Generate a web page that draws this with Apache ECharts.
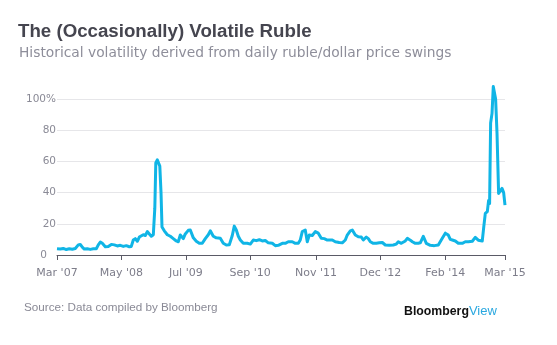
<!DOCTYPE html>
<html><head><meta charset="utf-8">
<script src="https://cdn.jsdelivr.net/npm/echarts@6/dist/echarts.min.js"></script>
<style>html,body{margin:0;padding:0;background:#fff}#c{width:557px;height:345px}</style>
</head><body><div id="c"></div>
<script>
// months since Mar 2007
var months = [0,0.71,1.35,1.99,2.64,3.28,3.92,4.56,4.99,5.42,5.85,6.49,7.14,7.78,8.42,8.85,9.28,9.71,10.35,10.99,11.64,12.28,12.92,13.56,14.21,14.85,15.49,15.92,16.35,16.78,17.21,17.64,18.06,18.49,18.92,19.35,19.78,20.21,20.64,20.96,21.17,21.49,21.77,22.03,22.29,22.5,22.99,23.64,24.28,24.92,25.56,25.99,26.42,27.06,27.49,28.13,28.56,29.21,29.85,30.49,31.13,31.78,32.42,32.85,33.49,34.13,34.99,35.63,36.28,36.92,37.56,37.99,38.42,38.85,39.28,39.92,40.78,41.42,42.06,42.71,43.35,43.99,44.63,45.28,46.13,46.78,47.42,48.28,48.92,49.56,50.42,51.06,51.71,52.13,52.56,53.2,53.63,54.06,54.7,55.35,55.99,56.63,57.27,57.92,58.99,59.63,60.49,61.13,61.78,62.2,62.85,63.28,63.92,64.56,65.21,65.64,66.28,66.71,67.14,67.78,68.42,69.06,69.71,70.35,71.21,72.06,72.71,73.14,73.78,73.99,74.64,75.07,75.71,76.14,76.78,77.42,77.85,78.49,79.14,79.99,80.85,81.71,82.13,82.56,83.21,83.85,84.28,84.71,85.35,85.99,86.85,87.49,88.13,88.99,89.63,90.27,91.13,91.45,91.78,92.21,92.49,92.7,92.92,93.22,93.49,93.77,93.99,94.29,94.63,94.99,95.36,95.71,96];
// historical volatility, %
var volatility = [4,3.8,4.2,3.5,4,3.7,4.2,6.5,6.8,5,3.8,4,3.6,4,4,6.5,8.3,7.5,5.3,5.5,6.8,6.5,5.8,6.2,5.5,6,5.3,5.5,9.6,10.5,8.8,11.5,11,13,12.5,15,13.5,12,13,30,59,61,62,57,40,18,15.5,13,12,10.5,9,8.5,12.8,10.5,13.5,15.8,16,11,8.8,7.5,7.5,10.5,13,15.5,12,11,10.8,7.5,6.4,6.5,12.5,18.5,16,12,9.6,7.5,7.5,7,9.6,9.2,9.8,9,9.3,7.8,7.5,6,6.2,7.5,7.5,8.5,8.5,7.5,7.5,9.6,15,16,8.5,12.8,12.5,15,14,10.7,10.5,9.6,9.6,8.5,8,7.8,9.6,12.8,15.5,16,12.8,11.7,11.5,9.6,11.5,10.5,8.5,7.5,7.5,7.8,8,6.4,6.2,6.4,7,8.5,7.5,6.4,9,10.7,9.5,8.5,7.5,7.5,7.8,12,7.5,6.2,6,6.4,6.5,10.7,14,12.8,10,9.6,9,7.5,7.5,8.5,8.5,8.8,11.3,9.5,9,18,26.7,27.8,35,33,84.6,90.8,108,108,100,78,39.5,40,42.7,40,32];
var tickMonths = [0,13.8,27.6,41.4,55.5,69.3,83.2,96];
var tickLabels = ["Mar '07","May '08","Jul '09","Sep '10","Nov '11","Dec '12","Feb '14","Mar '15"];

var pts = months.map(function(m,i){return [m, volatility[i]];});
var chart = echarts.init(document.getElementById('c'), null, {renderer:'canvas'});
chart.setOption({
  backgroundColor:'#fff',
  animation:false,
  title:[
    {text:'The (Occasionally) Volatile Ruble', left:18, top:22, padding:0,
     textStyle:{fontFamily:'Liberation Sans', fontWeight:'bold', fontSize:18.7, color:'#45454f'}},
    {text:'Historical volatility derived from daily ruble/dollar price swings', left:19, top:46, padding:0,
     textStyle:{fontFamily:'DejaVu Sans', fontWeight:'normal', fontSize:13.8, color:'#8e8e9a'}}
  ],
  grid:{left:57, right:52, top:99, bottom:90, containLabel:false},
  xAxis:{type:'value', min:0, max:96,
    splitLine:{show:false},
    axisLine:{show:true, lineStyle:{color:'#5a5a66', width:1}},
    axisTick:{show:true, customValues:tickMonths, length:5, lineStyle:{color:'#5a5a66'}},
    axisLabel:{customValues:tickMonths, margin:13, fontFamily:'DejaVu Sans', fontSize:11, color:'#7d7d8a',
      formatter:function(v){var i=tickMonths.indexOf(v);return i>=0?tickLabels[i]:'';}}
  },
  yAxis:{type:'value', min:0, max:100, interval:20,
    axisLine:{show:false}, axisTick:{show:false},
    splitLine:{show:true, lineStyle:{color:'#e6e6e9', width:1}},
    axisLabel:{margin:1, fontFamily:'DejaVu Sans', fontSize:10.5, color:'#8a8a96',
      formatter:function(v){return v===100?'100%':(v===0?'{z|0}':String(v));},
      rich:{z:{fontFamily:'DejaVu Sans', fontSize:10.5, color:'#8a8a96', padding:[0,9,0,0]}}}
  },
  series:[{type:'line', data:pts, showSymbol:false, clip:false,
    lineStyle:{color:'#10b5e6', width:3, join:'round'}}],
  graphic:[
    {type:'text', left:24, top:302, style:{text:'Source: Data compiled by Bloomberg', fontFamily:'Liberation Sans', fontSize:11.7, fill:'#8a8a96'}},
    {type:'text', left:404, top:305, style:{text:'{b|Bloomberg}{v|View}',
      rich:{b:{fontFamily:'Liberation Sans', fontWeight:'bold', fontSize:12.3, fill:'#111'},
            v:{fontFamily:'Liberation Sans', fontSize:13, fill:'#2aa8e0'}}}}
  ]
});
</script></body></html>
